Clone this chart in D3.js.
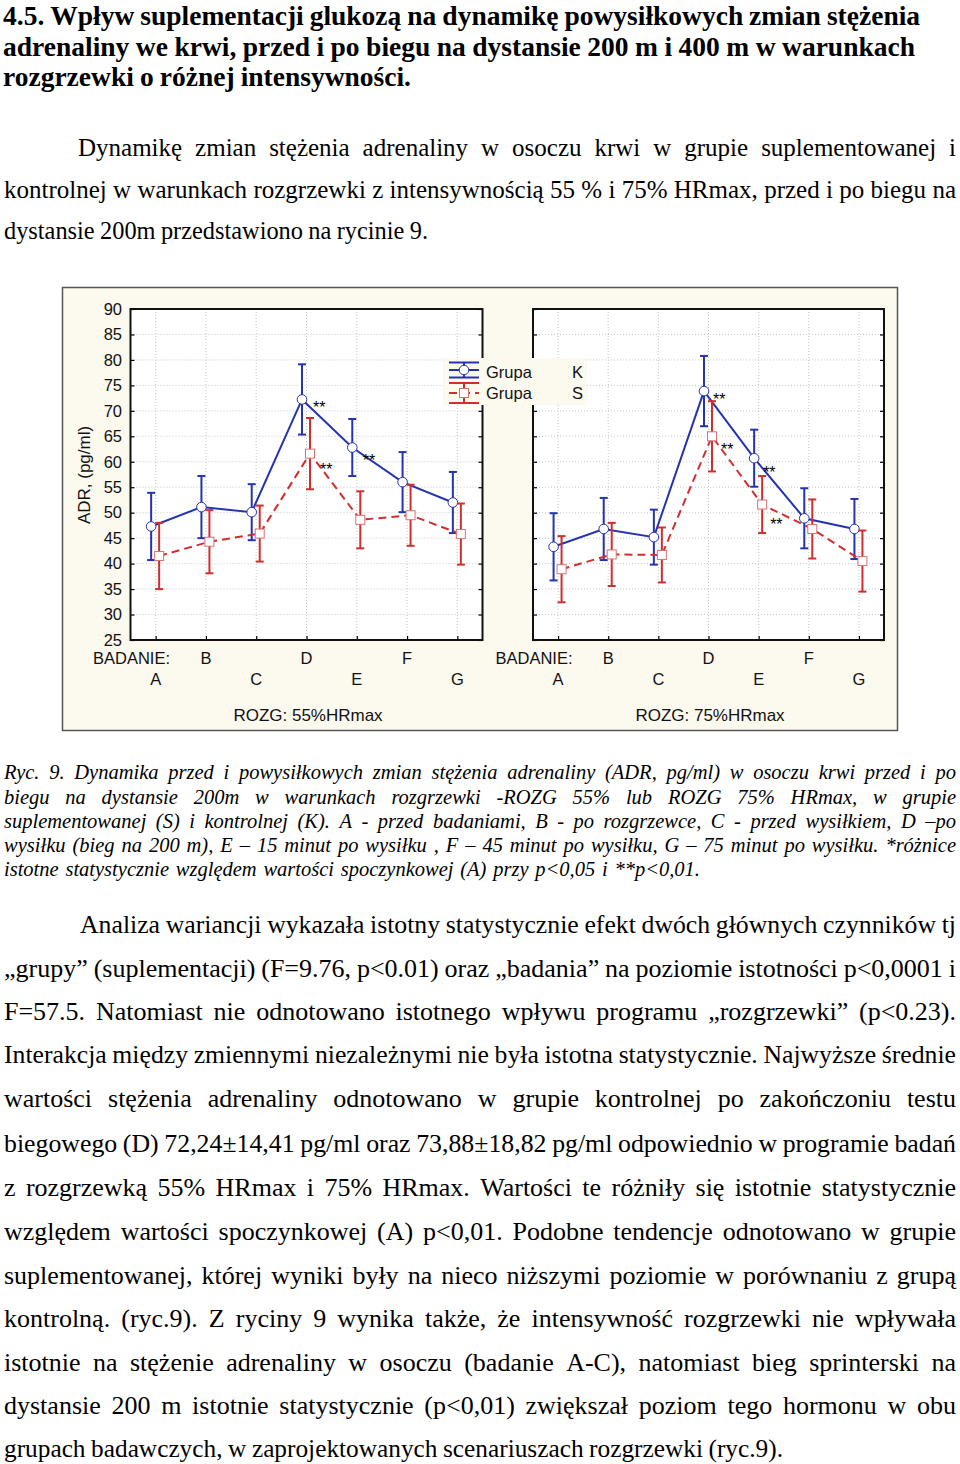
<!DOCTYPE html>
<html><head><meta charset="utf-8">
<script src="https://cdn.jsdelivr.net/npm/d3@7"></script>
<style>body{margin:0;background:#fff}</style>
</head><body>
<svg id="page" width="960" height="1464" xmlns="http://www.w3.org/2000/svg"></svg>
<script>
// ---------------- DATA ----------------
const categories = ["A", "B", "C", "D", "E", "F", "G"];
const upperRowLabels = ["B", "D", "F"];
const yTicks = [25, 30, 35, 40, 45, 50, 55, 60, 65, 70, 75, 80, 85, 90];
const panelTitles = ["ROZG: 55%HRmax", "ROZG: 75%HRmax"];
const groupNames = ["K", "S"];

const k55 = [47.3, 51.1, 50.1, 72.24, 62.8, 56.0, 52.0];
const k55err = [6.6, 6.1, 5.5, 6.9, 5.6, 5.9, 6.0];
const s55 = [41.5, 44.3, 45.9, 61.6, 48.6, 49.5, 45.8];
const s55err = [6.5, 6.2, 5.5, 7.0, 5.6, 6.0, 6.0];
const k75 = [43.3, 46.8, 45.2, 73.88, 60.7, 48.9, 46.8];
const k75err = [6.6, 6.1, 5.4, 6.9, 5.6, 5.9, 5.9];
const s75 = [38.9, 41.8, 41.7, 65.0, 51.6, 46.8, 40.5];
const s75err = [6.5, 6.2, 5.4, 6.9, 5.6, 5.8, 6.0];

// significance marks: panel, group, category
const sigMarks = [
  {panel: 0, group: "K", cat: "D", label: "**"},
  {panel: 0, group: "S", cat: "D", label: "**"},
  {panel: 0, group: "K", cat: "E", label: "**"},
  {panel: 1, group: "K", cat: "D", label: "**"},
  {panel: 1, group: "S", cat: "D", label: "**"},
  {panel: 1, group: "K", cat: "E", label: "**"},
  {panel: 1, group: "S", cat: "E", label: "**"}
];

const titleLines = [
  "4.5. Wpływ suplementacji glukozą na dynamikę powysiłkowych zmian stężenia",
  "adrenaliny we krwi, przed i po biegu na dystansie 200 m i 400 m w warunkach",
  "rozgrzewki o różnej intensywności."
];
const para1Lines = [
  "Dynamikę zmian stężenia adrenaliny w osoczu krwi w grupie suplementowanej i",
  "kontrolnej w warunkach rozgrzewki z intensywnością 55 % i 75% HRmax, przed i po biegu na",
  "dystansie 200m przedstawiono na rycinie 9."
];
const captionLines = [
  "Ryc. 9. Dynamika przed i powysiłkowych zmian stężenia adrenaliny (ADR, pg/ml) w osoczu krwi przed i po",
  "biegu na dystansie 200m w warunkach rozgrzewki -ROZG 55% lub ROZG 75% HRmax, w grupie",
  "suplementowanej (S) i kontrolnej (K). A - przed badaniami, B - po rozgrzewce, C - przed wysiłkiem, D –po",
  "wysiłku (bieg na 200 m), E – 15 minut po wysiłku , F – 45 minut po wysiłku, G – 75 minut po wysiłku. *różnice",
  "istotne statystycznie względem wartości spoczynkowej (A) przy p<0,05 i **p<0,01."
];
const para2Lines = [
  "Analiza wariancji wykazała istotny statystycznie efekt dwóch głównych czynników tj",
  "„grupy” (suplementacji) (F=9.76, p<0.01) oraz „badania” na poziomie istotności p<0,0001 i",
  "F=57.5. Natomiast nie odnotowano istotnego wpływu programu „rozgrzewki” (p<0.23).",
  "Interakcja między zmiennymi niezależnymi nie była istotna statystycznie. Najwyższe średnie",
  "wartości stężenia adrenaliny odnotowano w grupie kontrolnej po zakończoniu testu",
  "biegowego (D) 72,24±14,41 pg/ml oraz 73,88±18,82 pg/ml odpowiednio w programie badań",
  "z rozgrzewką 55% HRmax i 75% HRmax. Wartości te różniły się istotnie statystycznie",
  "względem wartości spoczynkowej (A) p<0,01. Podobne tendencje odnotowano w grupie",
  "suplementowanej, której wyniki były na nieco niższymi poziomie w porównaniu z grupą",
  "kontrolną. (ryc.9). Z ryciny 9 wynika także, że intensywność rozgrzewki nie wpływała",
  "istotnie na stężenie adrenaliny w osoczu (badanie A-C), natomiast bieg sprinterski na",
  "dystansie 200 m istotnie statystycznie (p<0,01) zwiększał poziom tego hormonu w obu",
  "grupach badawczych, w zaprojektowanych scenariuszach rozgrzewki (ryc.9)."
];

// ---------------- LAYOUT / STYLE ----------------
const SERIF = "'Liberation Serif','Times New Roman',serif";
const SANS = "'Liberation Sans',Arial,sans-serif";
const BLUE = "#2434b0", RED = "#cf2f2f", SQUARE_STROKE = "#dd7070";
const FS = 16.5;
const svg = d3.select("#page");

function drawLine(text, x0, x1, yb, opts) {
  const words = text.split(" ");
  const g = svg.append("g");
  const nodes = words.map(w => g.append("text").attr("x", 0).attr("y", yb)
    .style("font-family", opts.family).style("font-size", opts.size + "px")
    .style("font-weight", opts.weight || "normal").style("font-style", opts.style || "normal")
    .attr("fill", "#000").text(w));
  const widths = nodes.map(n => n.node().getComputedTextLength());
  const S = d3.sum(widths), W = x1 - x0, n = words.length;
  const sp = opts.size * 0.22;
  let k = 1, gap = 0;
  if (n > 1) {
    gap = (W - S) / (n - 1);
    if (gap < sp) { k = W / (S + sp * (n - 1)); gap = sp * k; }
  } else { k = W / S; }
  let x = x0;
  nodes.forEach((nd, i) => {
    nd.attr("x", x);
    if (Math.abs(k - 1) > 0.001) nd.attr("textLength", widths[i] * k).attr("lengthAdjust", "spacingAndGlyphs");
    x += widths[i] * k + gap;
  });
}

// Title
const titleLayout = [[3, 920, 25], [3, 915, 55.5], [3, 411, 86]];
titleLines.forEach((t, i) => drawLine(t, titleLayout[i][0], titleLayout[i][1], titleLayout[i][2],
  {family: SERIF, size: 27.5, weight: "bold"}));
// Paragraph 1
const p1Layout = [[78, 956, 156], [4, 956, 198], [4, 428, 239]];
para1Lines.forEach((t, i) => drawLine(t, p1Layout[i][0], p1Layout[i][1], p1Layout[i][2],
  {family: SERIF, size: 25}));
// Caption
const capBase = [779, 804, 828, 852, 876];
captionLines.forEach((t, i) => drawLine(t, 4, i === 4 ? 700 : 956, capBase[i],
  {family: SERIF, size: 20.5, style: "italic"}));
// Paragraph 2
const p2Base = [933, 977, 1020, 1063, 1107, 1152, 1196, 1240, 1284, 1327, 1371, 1414, 1457];
para2Lines.forEach((t, i) => drawLine(t, i === 0 ? 80 : 4, i === para2Lines.length - 1 ? 783 : 956, p2Base[i],
  {family: SERIF, size: 26}));

// ---------------- CHART ----------------
svg.append("rect").attr("x", 62.5).attr("y", 287.5).attr("width", 835).attr("height", 443)
  .attr("fill", "#fcf9ef").attr("stroke", "#555").attr("stroke-width", 1.5);

const plotTop = 309, plotBottom = 640;
const y = d3.scaleLinear().domain([25, 90]).range([plotBottom, plotTop]);
const panelX = [[130.5, 482.5], [533, 884]];
const panelData = [
  {K: k55, Kerr: k55err, S: s55, Serr: s55err},
  {K: k75, Kerr: k75err, S: s75, Serr: s75err}
];
const groupStyle = {
  K: {color: BLUE, dash: null, offset: -4.5},
  S: {color: RED, dash: "8,5", offset: 3.5}
};
const sigOffset = {
  "0K D": [11, 14], "0S D": [10, 21.5], "0K E": [10.5, 18.5],
  "1K D": [9, 14], "1S D": [9, 19], "1K E": [9, 20], "1S E": [8, 25.5]
};

panelX.forEach(([x0, x1], p) => {
  const x = d3.scalePoint().domain(categories).range([x0, x1]).padding(0.5);
  const g = svg.append("g");
  g.append("rect").attr("x", x0).attr("y", plotTop).attr("width", x1 - x0).attr("height", plotBottom - plotTop).attr("fill", "#fff");
  // grid
  g.selectAll(".hg").data(yTicks.slice(1, -1)).join("line")
    .attr("x1", x0).attr("x2", x1).attr("y1", d => y(d)).attr("y2", d => y(d))
    .attr("stroke", "#c8c8c8").attr("stroke-width", 1).attr("stroke-dasharray", "1,2");
  g.selectAll(".vg").data(categories).join("line")
    .attr("x1", d => x(d)).attr("x2", d => x(d)).attr("y1", plotTop).attr("y2", plotBottom)
    .attr("stroke", "#c8c8c8").attr("stroke-width", 1).attr("stroke-dasharray", "1,2");
  // axes with inward ticks
  const left = g.append("g").attr("transform", `translate(${x0},0)`)
    .call(d3.axisLeft(y).tickValues(yTicks).tickSizeInner(-4).tickSizeOuter(0).tickPadding(8.5)
      .tickFormat(p === 0 ? d3.format("d") : () => ""));
  left.select(".domain").remove();
  left.selectAll("line").attr("stroke", "#000").attr("stroke-width", 1.2);
  left.selectAll("text").style("font-family", SANS).style("font-size", FS + "px").attr("fill", "#111");
  const right = g.append("g").attr("transform", `translate(${x1},0)`)
    .call(d3.axisRight(y).tickValues(yTicks).tickSizeInner(-4).tickSizeOuter(0).tickFormat(() => ""));
  right.select(".domain").remove();
  right.selectAll("line").attr("stroke", "#000").attr("stroke-width", 1.2);
  const bot = g.append("g").attr("transform", `translate(0,${plotBottom})`)
    .call(d3.axisBottom(x).tickSizeInner(-4).tickSizeOuter(0).tickFormat(() => ""));
  bot.select(".domain").remove();
  bot.selectAll("line").attr("stroke", "#000").attr("stroke-width", 1.2);
  g.append("rect").attr("x", x0).attr("y", plotTop).attr("width", x1 - x0).attr("height", plotBottom - plotTop)
    .attr("fill", "none").attr("stroke", "#111").attr("stroke-width", 2);

  // category labels
  g.selectAll(".cl").data(categories).join("text")
    .attr("x", d => x(d)).attr("y", d => upperRowLabels.includes(d) ? 664 : 685)
    .attr("text-anchor", "middle").style("font-family", SANS).style("font-size", FS + "px").attr("fill", "#111")
    .text(d => d);
  g.append("text").attr("x", x0 + 1).attr("y", 664).attr("text-anchor", "middle")
    .style("font-family", SANS).style("font-size", FS + "px").attr("fill", "#111").text("BADANIE:");
  g.append("text").attr("x", (x0 + x1) / 2 + 1.5).attr("y", 721).attr("text-anchor", "middle")
    .style("font-family", SANS).style("font-size", "17px").attr("fill", "#111").text(panelTitles[p]);

  // series
  groupNames.forEach(gr => {
    const st = groupStyle[gr];
    const vals = panelData[p][gr], errs = panelData[p][gr + "err"];
    const pts = categories.map((c, i) => ({c, v: vals[i], e: errs[i], px: x(c) + st.offset}));
    g.append("path").datum(pts)
      .attr("d", d3.line().x(d => d.px).y(d => y(d.v)))
      .attr("fill", "none").attr("stroke", st.color).attr("stroke-width", 2)
      .attr("stroke-dasharray", st.dash);
    const eb = g.append("g").attr("stroke", st.color).attr("stroke-width", 2);
    eb.selectAll(".v").data(pts).join("line").attr("x1", d => d.px).attr("x2", d => d.px)
      .attr("y1", d => y(d.v - d.e)).attr("y2", d => y(d.v + d.e));
    eb.selectAll(".t").data(pts).join("line").attr("x1", d => d.px - 4).attr("x2", d => d.px + 4)
      .attr("y1", d => y(d.v + d.e)).attr("y2", d => y(d.v + d.e));
    eb.selectAll(".b").data(pts).join("line").attr("x1", d => d.px - 4).attr("x2", d => d.px + 4)
      .attr("y1", d => y(d.v - d.e)).attr("y2", d => y(d.v - d.e));
    if (gr === "K") {
      g.selectAll(".mk" + gr).data(pts).join("circle").attr("cx", d => d.px).attr("cy", d => y(d.v))
        .attr("r", 4.8).attr("fill", "#fff").attr("stroke", st.color).attr("stroke-width", 1);
    } else {
      g.selectAll(".mk" + gr).data(pts).join("rect").attr("x", d => d.px - 4.5).attr("y", d => y(d.v) - 4.5)
        .attr("width", 9).attr("height", 9).attr("fill", "#fff").attr("stroke", SQUARE_STROKE).attr("stroke-width", 1);
    }
  });

  // significance marks
  sigMarks.filter(m => m.panel === p).forEach(m => {
    const idx = categories.indexOf(m.cat);
    const v = panelData[p][m.group][idx];
    const off = sigOffset[p + m.group + " " + m.cat];
    g.append("text").attr("x", x(m.cat) + groupStyle[m.group].offset + off[0]).attr("y", y(v) + off[1])
      .style("font-family", SANS).style("font-size", "16px").attr("fill", "#000").text(m.label);
  });
});

// y axis title
svg.append("text").attr("transform", "translate(90,475) rotate(-90)").attr("text-anchor", "middle")
  .style("font-family", SANS).style("font-size", "17px").attr("fill", "#111").text("ADR, (pg/ml)");

// legend
const lg = svg.append("g");
lg.append("rect").attr("x", 443).attr("y", 358).attr("width", 144).attr("height", 47).attr("fill", "#fcf9ef");
const legRows = [
  {gr: "K", cy: 370, h: 7.5, baseline: 378},
  {gr: "S", cy: 393, h: 10, baseline: 399}
];
legRows.forEach(r => {
  const st = groupStyle[r.gr];
  const s = lg.append("g").attr("stroke", st.color).attr("stroke-width", 2);
  s.append("line").attr("x1", 449).attr("x2", 479).attr("y1", r.cy - r.h).attr("y2", r.cy - r.h);
  s.append("line").attr("x1", 449).attr("x2", 479).attr("y1", r.cy + r.h).attr("y2", r.cy + r.h);
  s.append("line").attr("x1", 464).attr("x2", 464).attr("y1", r.cy - r.h).attr("y2", r.cy + r.h);
  s.append("line").attr("x1", 449).attr("x2", 479).attr("y1", r.cy).attr("y2", r.cy).attr("stroke-dasharray", st.dash);
  if (r.gr === "K") {
    lg.append("circle").attr("cx", 464).attr("cy", r.cy).attr("r", 4.8).attr("fill", "#fff").attr("stroke", st.color);
  } else {
    lg.append("rect").attr("x", 459.5).attr("y", r.cy - 4.5).attr("width", 9).attr("height", 9)
      .attr("fill", "#fff").attr("stroke", SQUARE_STROKE);
  }
  lg.append("text").attr("x", 486).attr("y", r.baseline).style("font-family", SANS).style("font-size", "16.5px")
    .attr("fill", "#111").text("Grupa");
  lg.append("text").attr("x", 572).attr("y", r.baseline).style("font-family", SANS).style("font-size", "16.5px")
    .attr("fill", "#111").text(r.gr);
});
</script>
</body></html>
